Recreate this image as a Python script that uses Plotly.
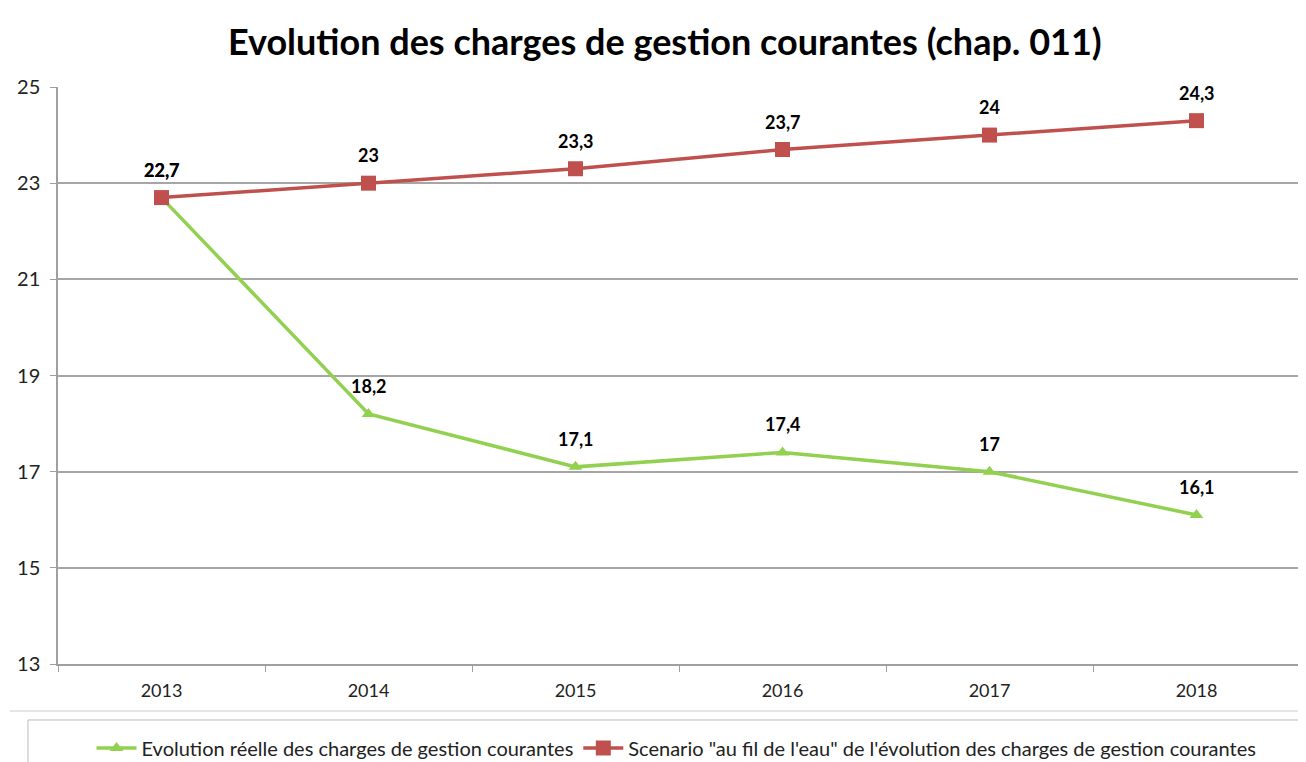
import plotly.graph_objects as go

years = ['2013', '2014', '2015', '2016', '2017', '2018']
reel = [22.7, 18.2, 17.1, 17.4, 17.0, 16.1]
scenario = [22.7, 23.0, 23.3, 23.7, 24.0, 24.3]
y_ticks = [13, 15, 17, 19, 21, 23, 25]

GREEN = "#92D050"
RED = "#C0504D"
FONT = "Lato"


def fr(v):
    # French decimal comma, no trailing zero
    return ("%g" % v).replace('.', ',')


fig = go.Figure()

fig.add_trace(go.Scatter(
    x=years, y=reel, mode="lines+markers",
    name="Evolution réelle des charges de gestion courantes",
    line=dict(color=GREEN, width=3.5),
    marker=dict(symbol="triangle-up", size=12, color=GREEN),
))
fig.add_trace(go.Scatter(
    x=years, y=scenario, mode="lines+markers",
    name="Scenario \"au fil de l'eau\" de l'évolution des charges de gestion courantes",
    line=dict(color=RED, width=3.5),
    marker=dict(symbol="square", size=15, color=RED),
))

# data labels above the points (x as category index)
annotations = []
for series in (reel, scenario):
    for i, y in enumerate(series):
        annotations.append(dict(
            x=i, y=y, xref="x", yref="y", text="<b>" + fr(y) + "</b>",
            showarrow=False, yshift=28,
            font=dict(family=FONT, size=18, color="black"),
        ))

fig.update_layout(
    width=1298, height=754,
    paper_bgcolor="white", plot_bgcolor="white",
    margin=dict(l=50, r=6, t=79, b=98, autoexpand=False),
    title=dict(
        text="<b>Evolution des charges de gestion courantes (chap. 011)</b>",
        x=0.506, xanchor="center", y=0.955, yanchor="middle",
        font=dict(family=FONT, size=36, color="black"),
    ),
    font=dict(family=FONT, size=17, color="#222"),
    annotations=annotations,
    showlegend=True,
    legend=dict(
        orientation="h", x=0.498, xanchor="center", y=-0.1456, yanchor="middle",
        borderwidth=0, bgcolor="rgba(0,0,0,0)",
        font=dict(family=FONT, size=20, color="#222"),
        itemwidth=40,
    ),
    shapes=[
        # outer chart frame line
        dict(type="line", xref="paper", yref="paper",
             x0=-0.0386, x1=1.01, y0=-0.0815, y1=-0.0815,
             line=dict(color="#CCCCCC", width=1)),
        # legend box (cut by the bottom edge)
        dict(type="rect", xref="paper", yref="paper",
             x0=-0.0242, x1=1.02, y0=-0.097, y1=-0.25,
             line=dict(color="#BBBBBB", width=1), layer="below"),
    ],
)

fig.update_xaxes(
    type="category", range=[-0.5, 5.5], autorange=False, automargin=False,
    showgrid=False, showline=True, linecolor="#A0A0A0",
    linewidth=1.5, ticks="outside", tickson="boundaries", ticklen=6,
    tickcolor="#A0A0A0", tickangle=0, ticklabelstandoff=10,
    tickfont=dict(family=FONT, size=18, color="#222"),
)
fig.update_yaxes(
    range=[13, 25], tickvals=y_ticks, automargin=False,
    showgrid=True, gridcolor="#A6A6A6",
    gridwidth=1.5, showline=True, linecolor="#A0A0A0", linewidth=1.5,
    ticks="outside", ticklen=6, tickcolor="#A0A0A0", ticklabelstandoff=6,
    tickfont=dict(family=FONT, size=20, color="#222"), zeroline=False,
)

fig.write_html("out.html")
